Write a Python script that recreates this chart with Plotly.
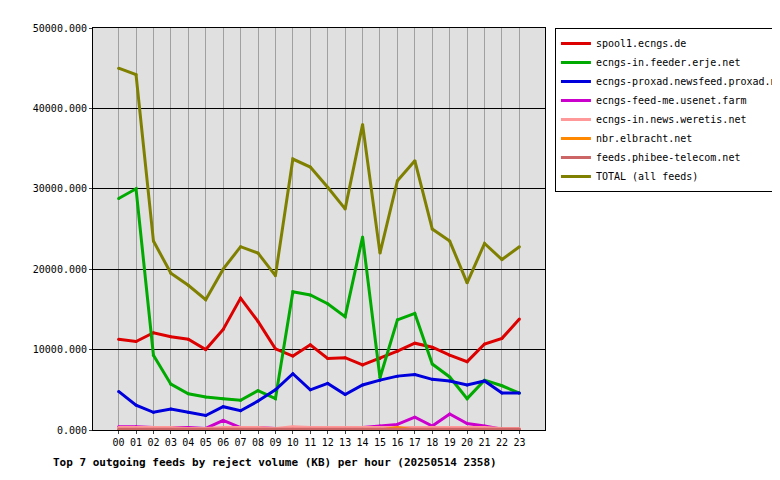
import plotly.graph_objects as go

hours = [f"{h:02d}" for h in range(24)]
spool1 = [11300,11000,12100,11600,11300,10000,12500,16400,13500,10100,9200,10600,8900,9000,8100,8900,9800,10800,10300,9300,8500,10700,11400,13800]
feeder = [28800,30000,9300,5700,4500,4100,3900,3700,4900,3900,17200,16800,15700,14100,24000,6500,13700,14500,8200,6600,3900,6200,5500,4600]
proxad = [4800,3100,2200,2600,2200,1800,2900,2400,3600,5000,7000,5000,5800,4400,5600,6200,6700,6900,6300,6100,5600,6100,4600,4600]
usenet = [400,400,300,300,300,200,1200,300,300,200,200,200,200,200,300,500,700,1600,500,2000,800,500,100,100]
weretis = [300,300,300,300,200,200,300,300,300,200,400,300,300,300,300,300,300,300,300,300,300,300,200,200]
elbracht = [0,0,0,0,0,0,0,0,0,0,0,0,0,0,0,0,300,0,0,0,0,0,0,0]
phibee = [100,100,100,100,100,100,100,100,100,100,100,100,100,100,100,100,100,100,100,100,100,100,100,100]
total = [45000,44200,23500,19500,18000,16200,20000,22800,22000,19200,33700,32700,30200,27500,38000,22000,31000,33500,25000,23500,18300,23200,21200,22800]

series = [
    ("spool1.ecngs.de", spool1, "#dd0000"),
    ("ecngs-in.feeder.erje.net", feeder, "#00aa00"),
    ("ecngs-proxad.newsfeed.proxad.net", proxad, "#0000dd"),
    ("ecngs-feed-me.usenet.farm", usenet, "#cc00cc"),
    ("ecngs-in.news.weretis.net", weretis, "#ff9999"),
    ("nbr.elbracht.net", elbracht, "#ff8800"),
    ("feeds.phibee-telecom.net", phibee, "#cc6666"),
    ("TOTAL (all feeds)", total, "#808000"),
]

fig = go.Figure()
for name, vals, col in series:
    fig.add_trace(go.Scatter(x=hours, y=vals, name=name, mode="lines+markers",
                             line=dict(color=col, width=3), marker=dict(size=3, color=col)))

fig.update_layout(
    width=780, height=480, paper_bgcolor="white", plot_bgcolor="#e0e0e0",
    margin=dict(l=85, r=243, t=20, b=58, autoexpand=False),
    font=dict(family="DejaVu Sans Mono", size=10, color="black"),
    legend=dict(x=1.022, y=1, xanchor="left", yanchor="top", bordercolor="black",
                borderwidth=1, bgcolor="white", font=dict(size=10), tracegroupgap=0,
                itemwidth=30),
    showlegend=True,
)
fig.update_xaxes(showgrid=True, gridcolor="#a0a0a0", gridwidth=1, showline=True,
                 linecolor="black", mirror=True, ticks="outside", ticklen=3)
fig.update_yaxes(range=[0, 50000], dtick=10000, tickformat=".3f", showgrid=True,
                 gridcolor="black", gridwidth=1, showline=True, linecolor="black",
                 mirror=True, zeroline=False, ticks="outside", ticklen=3)
fig.add_annotation(text="<b>Top 7 outgoing feeds by reject volume (KB) per hour (20250514 2358)</b>",
                   xref="paper", yref="paper", x=-0.093, y=-0.06, xanchor="left", yanchor="top",
                   showarrow=False, font=dict(size=11))
fig.write_html("out.html")
